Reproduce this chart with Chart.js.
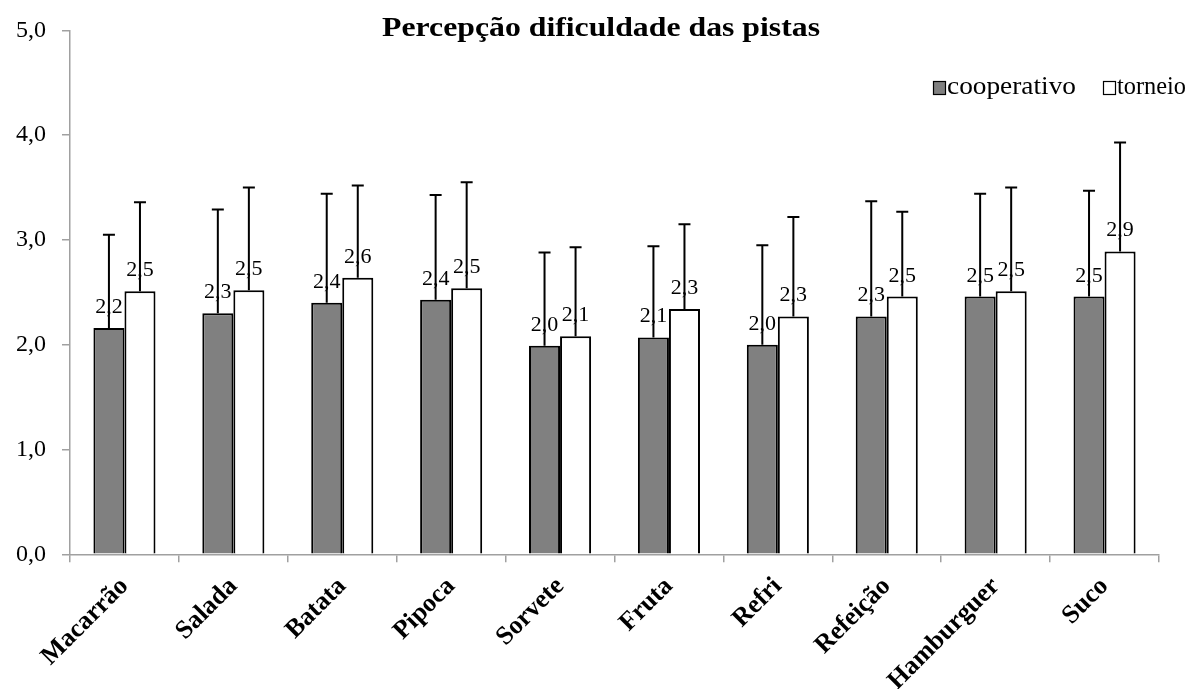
<!DOCTYPE html>
<html>
<head>
<meta charset="utf-8">
<script src="https://cdn.jsdelivr.net/npm/chart.js@4.4.1/dist/chart.umd.min.js"></script>
<style>
html,body{margin:0;padding:0;background:#fff;}
#wrap{width:1198px;height:689px;position:relative;}
</style>
</head>
<body>
<div id="wrap"><canvas id="c" width="1198" height="689"></canvas></div>
<script>
const categories = ['Macarrão','Salada','Batata','Pipoca','Sorvete','Fruta','Refri','Refeição','Hamburguer','Suco'];
const cooperativo = [2.16, 2.30, 2.40, 2.43, 1.99, 2.07, 2.00, 2.27, 2.46, 2.46];
const cooperativoErr = [0.89, 0.99, 1.04, 1.00, 0.89, 0.87, 0.95, 1.10, 0.98, 1.01];
const torneio = [2.51, 2.52, 2.64, 2.54, 2.08, 2.34, 2.27, 2.46, 2.51, 2.89];
const torneioErr = [0.85, 0.98, 0.88, 1.01, 0.85, 0.81, 0.95, 0.81, 0.99, 1.04];
const yTicks = [0, 1, 2, 3, 4, 5];
const titleText = 'Percepção dificuldade das pistas';
const seriesNames = ['cooperativo', 'torneio'];

const SERIF = '"Liberation Serif", "Times New Roman", serif';
const fmt = v => v.toFixed(1).replace('.', ',');

function fitText(ctx, text, x, y, width) {
  const w = ctx.measureText(text).width;
  ctx.save();
  ctx.translate(x, y);
  ctx.scale(width / w, 1);
  ctx.fillText(text, 0, 0);
  ctx.restore();
}

const overlay = {
  id: 'overlay',
  afterDatasetsDraw(chart) {
    const ctx = chart.ctx;
    const y = chart.scales.y;
    const errs = [cooperativoErr, torneioErr];
    ctx.save();
    ctx.font = '22px ' + SERIF;
    ctx.fillStyle = '#000';
    ctx.textAlign = 'center';
    ctx.textBaseline = 'alphabetic';
    chart.data.datasets.forEach((ds, di) => {
      const meta = chart.getDatasetMeta(di);
      meta.data.forEach((bar, i) => {
        ctx.fillText(fmt(ds.data[i]), bar.x, bar.y - 15);
      });
    });
    ctx.restore();
    ctx.save();
    ctx.strokeStyle = '#000';
    ctx.lineWidth = 2;
    chart.data.datasets.forEach((ds, di) => {
      const meta = chart.getDatasetMeta(di);
      meta.data.forEach((bar, i) => {
        const top = y.getPixelForValue(ds.data[i] + errs[di][i]);
        ctx.beginPath();
        ctx.moveTo(bar.x, bar.y);
        ctx.lineTo(bar.x, top);
        ctx.moveTo(bar.x - 6, top);
        ctx.lineTo(bar.x + 6, top);
        ctx.stroke();
      });
    });
    ctx.restore();
  },
  afterDraw(chart) {
    const ctx = chart.ctx;
    ctx.save();
    ctx.fillStyle = '#000';
    ctx.font = 'bold 27px ' + SERIF;
    ctx.textAlign = 'left';
    ctx.textBaseline = 'alphabetic';
    fitText(ctx, titleText, 382, 36, 438);
    ctx.font = '25px ' + SERIF;
    const items = [
      {x: 933, tx: 947, tw: 129, fill: '#808080', label: seriesNames[0]},
      {x: 1103, tx: 1117, tw: 69, fill: '#ffffff', label: seriesNames[1]}
    ];
    items.forEach(it => {
      ctx.fillStyle = it.fill;
      ctx.fillRect(it.x, 81, 12, 13);
      ctx.strokeStyle = '#000';
      ctx.lineWidth = 1.2;
      ctx.strokeRect(it.x + 0.5, 81.5, 12, 13);
      ctx.fillStyle = '#000';
      fitText(ctx, it.label, it.tx, 94, it.tw);
    });
    ctx.restore();
  }
};

new Chart(document.getElementById('c'), {
  type: 'bar',
  data: {
    labels: categories,
    datasets: [
      {label: seriesNames[0], data: cooperativo, backgroundColor: '#808080', borderColor: '#000', borderWidth: 2,
       categoryPercentage: 0.57, barPercentage: 1.0},
      {label: seriesNames[1], data: torneio, backgroundColor: '#ffffff', borderColor: '#000', borderWidth: 2,
       categoryPercentage: 0.57, barPercentage: 1.0}
    ]
  },
  options: {
    responsive: false,
    animation: false,
    devicePixelRatio: 1,
    layout: {padding: {top: 27, right: 39, left: 0, bottom: 0}},
    plugins: {legend: {display: false}, tooltip: {enabled: false}, title: {display: false}},
    scales: {
      x: {
        offset: true,
        grid: {display: true, offset: true, drawOnChartArea: false, color: '#a0a0a0', tickLength: 8, lineWidth: 1.5},
        border: {display: true, color: '#a0a0a0', width: 1.5},
        ticks: {color: '#000', font: {family: SERIF, size: 26, weight: 'bold'}, maxRotation: 45, minRotation: 45, padding: 9, autoSkip: false},
        afterFit(s) { s.height = 134.7; }
      },
      y: {
        min: 0, max: 5,
        afterBuildTicks(s) { s.ticks = yTicks.map(v => ({value: v})); },
        grid: {display: true, drawOnChartArea: false, color: '#a0a0a0', tickLength: 8, lineWidth: 1.5},
        border: {display: true, color: '#a0a0a0', width: 1.5},
        ticks: {color: '#000', font: {family: SERIF, size: 24}, padding: 16, callback: v => fmt(v)},
        afterFit(s) { s.width = 70; }
      }
    }
  },
  plugins: [overlay]
});
</script>
</body>
</html>
